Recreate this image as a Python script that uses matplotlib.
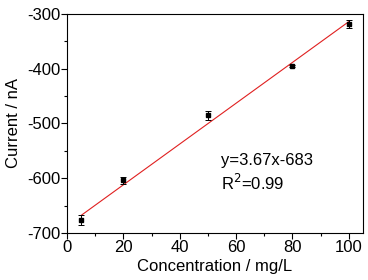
import matplotlib
matplotlib.use("Agg")
import matplotlib.pyplot as plt
from matplotlib.ticker import MultipleLocator

plt.rcParams["font.family"] = ["Liberation Sans", "DejaVu Sans"]
plt.rcParams["axes.unicode_minus"] = False

# calibration points
conc = [5, 20, 50, 80, 100]
current = [-676, -604, -485, -395, -318]
err = [9, 7, 8, 2, 7]

# fitted line endpoints (y=3.67x-683)
fit_x = [5, 100]
fit_y = [-668, -314]

fig = plt.figure(figsize=(3.68, 2.8), dpi=100)
ax = fig.add_axes([0.182, 0.168, 0.804, 0.782])

ax.plot(fit_x, fit_y, color="#e02020", linewidth=0.8)
ax.errorbar(conc, current, yerr=err, fmt="s", color="black", markersize=3.2,
            elinewidth=0.7, capsize=2.5, capthick=0.7)

ax.set_xlim(0, 105)
ax.set_ylim(-700, -300)
ax.xaxis.set_major_locator(MultipleLocator(20))
ax.xaxis.set_minor_locator(MultipleLocator(10))
ax.yaxis.set_major_locator(MultipleLocator(100))
ax.yaxis.set_minor_locator(MultipleLocator(50))
ax.tick_params(which="major", direction="out", length=4, width=0.8, labelsize=12, pad=1)
ax.tick_params(which="minor", direction="out", length=2.5, width=0.8)
for s in ax.spines.values():
    s.set_linewidth(0.8)

ax.set_xlabel("Concentration / mg/L", fontsize=12, labelpad=3)
ax.set_ylabel("Current / nA", fontsize=12, labelpad=4)

ax.text(0.52, 0.31, "y=3.67x-683", transform=ax.transAxes, fontsize=12)
ax.text(0.52, 0.195, "R$^2$=0.99", transform=ax.transAxes, fontsize=12)

fig.savefig("out.png", dpi=100)
